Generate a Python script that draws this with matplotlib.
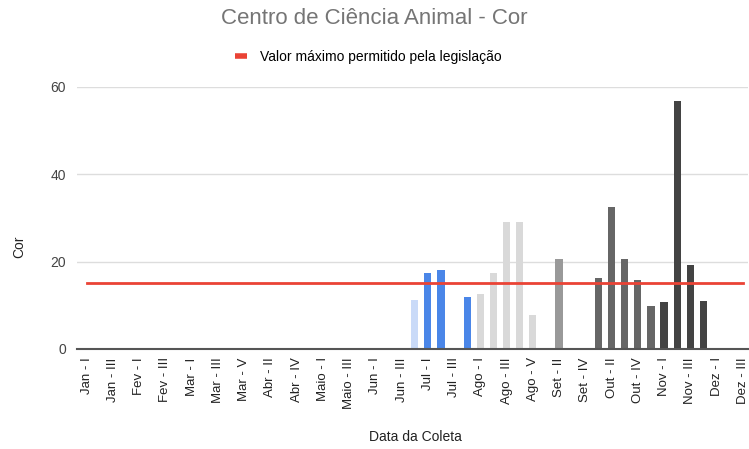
import numpy as np
import matplotlib
matplotlib.use("Agg")
import matplotlib.pyplot as plt
from matplotlib.lines import Line2D

plt.rcParams['font.family'] = ['Liberation Sans', 'DejaVu Sans']

# semanas de coleta
categorias = [
    'Jan - I', 'Jan - II', 'Jan - III', 'Jan - IV',
    'Fev - I', 'Fev - II', 'Fev - III', 'Fev - IV',
    'Mar - I', 'Mar - II', 'Mar - III', 'Mar - IV', 'Mar - V',
    'Abr - I', 'Abr - II', 'Abr - III', 'Abr - IV', 'Abr - V',
    'Maio - I', 'Maio - II', 'Maio - III', 'Maio - IV',
    'Jun - I', 'Jun - II', 'Jun - III', 'Jun - IV',
    'Jul - I', 'Jul - II', 'Jul - III', 'Jul - IV',
    'Ago - I', 'Ago - II', 'Ago - III', 'Ago - IV', 'Ago - V',
    'Set - I', 'Set - II', 'Set - III', 'Set - IV',
    'Out - I', 'Out - II', 'Out - III', 'Out - IV', 'Out - V',
    'Nov - I', 'Nov - II', 'Nov - III', 'Nov - IV',
    'Dez - I', 'Dez - II', 'Dez - III',
]

# valores de cor medidos (None = sem coleta)
cor = [None] * 25 + [
    11.2,                          # Jun - IV
    17.3, 18.1, None, 12.0,        # Jul
    12.5, 17.3, 29.1, 29.1, 7.8,   # Ago
    None, 20.5, None, None,        # Set
    16.2, 32.4, 20.5, 15.7, 9.8,   # Out
    10.7, 56.7, 19.3, 11.05,       # Nov
    None, None, None,              # Dez
]

limite = [15] * len(categorias)

cores_mes = {
    'Jun': '#c9daf8', 'Jul': '#4a86e8', 'Ago': '#d9d9d9',
    'Set': '#999999', 'Out': '#666666', 'Nov': '#434343',
}

x = np.arange(len(categorias))
valores = np.array([np.nan if v is None else v for v in cor])
cores = [cores_mes.get(c.split(' - ')[0], '#999999') for c in categorias]

fig = plt.figure(figsize=(7.49, 4.49), dpi=100)
ax = fig.add_axes([77/749, 1-349/449, (748-77)/749, (349-86.7)/449])

ax.bar(x, valores, width=0.55, color=cores, zorder=3)
ax.plot(x, limite, color='#ea4335', linewidth=2, zorder=4)

ax.set_xlim(-0.74, 50.4)
ax.set_ylim(0, 60)
ax.set_yticks([0, 20, 40, 60])
ax.grid(axis='y', color='#dddddd', linewidth=1, zorder=0)
for s in ['top', 'right', 'left']:
    ax.spines[s].set_visible(False)
ax.spines['bottom'].set_color('#555555')
ax.spines['bottom'].set_linewidth(1.5)
ax.spines['bottom'].set_zorder(5)

ax.set_xticks(x[::2])
ax.set_xticklabels(categorias[::2], rotation=90, fontsize=9.5, color='#222222')
ax.tick_params(axis='x', length=0, pad=6)
ax.tick_params(axis='y', length=0, labelsize=10, labelcolor='#444444', pad=8)

ax.set_ylabel('Cor', fontsize=10, color='#222222')
ax.yaxis.set_label_coords(-0.075, (349-247)/(349-86.7))
ax.set_xlabel('Data da Coleta', fontsize=10, color='#222222')
ax.xaxis.set_label_coords((415-77)/(748-77), -(430-349)/(349-86.7))

fig.text(374/749, 1-18/449, 'Centro de Ciência Animal - Cor', ha='center', va='center',
         fontsize=16, color='#757575')

handle = Line2D([0], [0], color='#ea4335', linewidth=4, solid_capstyle='butt')
fig.legend([handle], ['Valor máximo permitido pela legislação'], loc='center left',
           bbox_to_anchor=(222/749, 1-57/449), frameon=False, fontsize=10,
           handlelength=0.9, handletextpad=0.9)

fig.savefig('out.png', dpi=100)
